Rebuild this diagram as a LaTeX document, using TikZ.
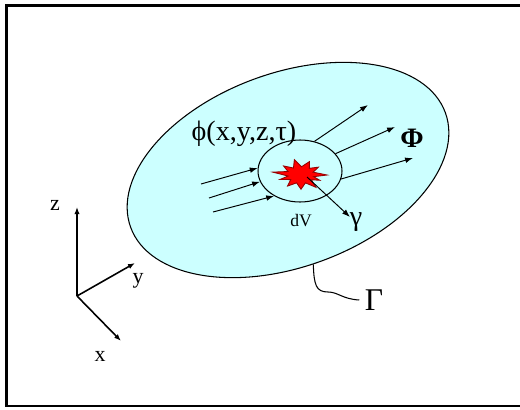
\documentclass[tikz,border=0pt]{standalone}
\usepackage{fontspec}
\setmainfont{Liberation Serif}
\usetikzlibrary{arrows.meta,shapes.geometric}
\definecolor{vFill}{RGB}{204,255,255}
\definecolor{vBoom}{RGB}{255,0,0}
\definecolor{vBoomEdge}{RGB}{150,0,0}

\begin{document}
\begin{tikzpicture}[
			x=0.02cm,y=-0.02cm,
			ray/.style={-{Latex[length=4.5pt,width=3.2pt]},line width=0.55pt},
			ax/.style={-{Latex[length=4pt,width=3pt]},line width=0.9pt},
			lbl/.style={inner sep=1pt,font=\fontsize{16}{18}\selectfont},
			axlbl/.style={inner sep=1pt,font=\fontsize{12.5}{14}\selectfont}
			]
			\useasboundingbox (0,0) rectangle (520,409);
			\draw[line width=1.6pt] (530,5.5) -- (6.5,5.5) -- (6.5,406) -- (530,406);
			\node[ellipse,draw,fill=vFill,line width=0.6pt,minimum width=6.7cm,minimum height=3.88cm,inner sep=0,rotate=20](vol) at (288,170) {};
			\node[ellipse,draw,line width=0.6pt,minimum width=1.68cm,minimum height=1.24cm,inner sep=0](dv) at (300,171) {};
			\begin{scope}[shift={(301,175)}]
				\filldraw[fill=vBoom,draw=vBoomEdge,line width=0.5pt] (0:26 and 15)
				\foreach \a/\f in {13/0.5,26/0.8,39/0.5,55/1.0,72/0.55,90/0.95,108/0.55,125/0.9,142/0.5,160/0.85,172/0.5,190/1.1,205/0.55,222/0.9,238/0.55,256/1.05,272/0.55,290/0.95,306/0.55,322/0.85,338/0.5}
				{ -- (\a:{26*\f} and {15*\f}) } -- cycle;
			\end{scope}
			\node[lbl](phi) at (244,134) {ϕ(x,y,z,τ)};
			\node[lbl,font=\fontsize{16}{18}\selectfont\bfseries](Phi) at (412,138) {Φ};
			\node[lbl](gam) at (356,222) {γ};
			\node[inner sep=1pt,font=\fontsize{10}{12}\selectfont](dV) at (301,221) {dV};
			\node[inner sep=3pt,font=\fontsize{18}{20}\selectfont](Gam) at (374,300) {Γ};
			\coordinate (i1) at (201,184);
			\coordinate (i2) at (209,198);
			\coordinate (i3) at (213,212);
			\coordinate (o1) at (368,105);
			\coordinate (o2) at (395,127);
			\coordinate (o3) at (413,158);
			\coordinate (src) at (307,177);
			\coordinate (gtip) at (350,217);
			\draw[ray] (i1) -- (dv.176);
			\draw[ray] (i2) -- (dv.195);
			\draw[ray] (i3) -- (dv.224);
			\draw[ray] (dv.64) -- (o1);
			\draw[ray] (dv.26) -- (o2);
			\draw[ray] (dv.349) -- (o3);
			\draw[ray] (src) -- (gtip);
			\draw[line width=0.6pt] (vol.-95) .. controls (314,285) and (316,292) .. (328,292) .. controls (338,292) and (342,299) .. (Gam.west);
			\coordinate (o) at (77,296);
			\coordinate (zt) at (77,207);
			\coordinate (yt) at (135,263);
			\coordinate (xt) at (121,341);
			\draw[ax] (o) -- (zt);
			\draw[ax] (o) -- (yt);
			\draw[ax] (o) -- (xt);
			\node[axlbl](zl) at (55,205) {z};
			\node[axlbl](yl) at (138,281) {y};
			\node[axlbl](xl) at (100,356) {x};
		\end{tikzpicture}
\end{document}
